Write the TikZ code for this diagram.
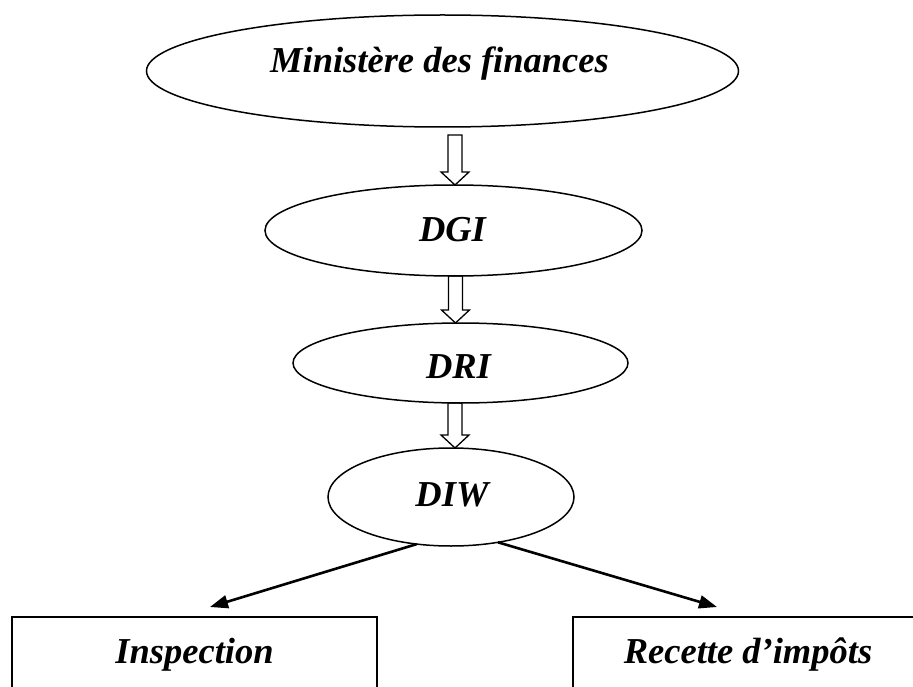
\documentclass[tikz,border=0pt]{standalone}
\usepackage{fontspec}
\setmainfont{Liberation Serif}
\usetikzlibrary{shapes.geometric,arrows.meta,calc}
\begin{document}
\begin{tikzpicture}[x=1pt,y=-1pt,
  ell/.style={draw, ellipse, line width=1.5pt, inner sep=0pt, outer sep=0pt},
  lbl/.style={font=\fontsize{36.5}{40}\selectfont\bfseries\itshape, inner sep=0pt, anchor=base},
  box/.style={draw, line width=2pt, rectangle, inner sep=0pt, outer sep=0pt,
    minimum height=76pt, text height=25pt, text depth=8pt,
    font=\fontsize{36.5}{40}\selectfont\bfseries\itshape},
  arr/.style={line width=2.6pt, -{Triangle[length=18pt,width=13pt]}},
  hollow/.style 2 args={draw, line width=1.3pt,
    to path={let \p1=(\tikztostart.south), \p2=(\tikztotarget.north) in
      (#1pt-7pt,\y1-#2pt) -- (#1pt+7pt,\y1-#2pt) -- (#1pt+7pt,\y2+13pt)
      -- (#1pt+14pt,\y2+13pt) -- (#1pt,\y2) -- (#1pt-14pt,\y2+13pt)
      -- (#1pt-7pt,\y2+13pt) -- cycle}}]
\useasboundingbox (0,0) rectangle (913,687);
\clip (0,0) rectangle (913,687);
\fill[white] (0,0) rectangle (913,687);

% ellipses
\node[ell, minimum width=592pt, minimum height=112pt] (top) at (442.5,71) {};
\node[ell, minimum width=377pt, minimum height=91pt] (dgi) at (453.5,230.5) {};
\node[ell, minimum width=335pt, minimum height=80pt] (dri) at (460.5,363) {};
\node[ell, minimum width=246pt, minimum height=98pt] (diw) at (451,497) {};

% labels in ellipses
\node[lbl] (tmin) at (439.5,72.7) {Ministère des finances};
\node[lbl] (tdgi) at (452.5,241.7) {DGI};
\node[lbl] (tdri) at (458.5,378) {DRI};
\node[lbl] (tdiw) at (452,506) {DIW};

% boxes
\node[box, minimum width=365pt, anchor=north] (insp) at (194.5,617) {Inspection};
\node[box, minimum width=350pt, anchor=north west] (rec) at (573,617) {Recette d’impôts};

% hollow arrows
\draw[hollow={455}{8}] (top) to (dgi);
\draw[hollow={455.5}{0}] (dgi) to (dri);
\draw[hollow={455}{0}] (dri) to (diw);

% diagonal arrows
\coordinate (tipL) at (210,607);
\coordinate (tipR) at (717,607);
\draw[arr] (diw.234) -- (tipL);
\draw[arr] (diw.316) -- (tipR);
\end{tikzpicture}
\end{document}
